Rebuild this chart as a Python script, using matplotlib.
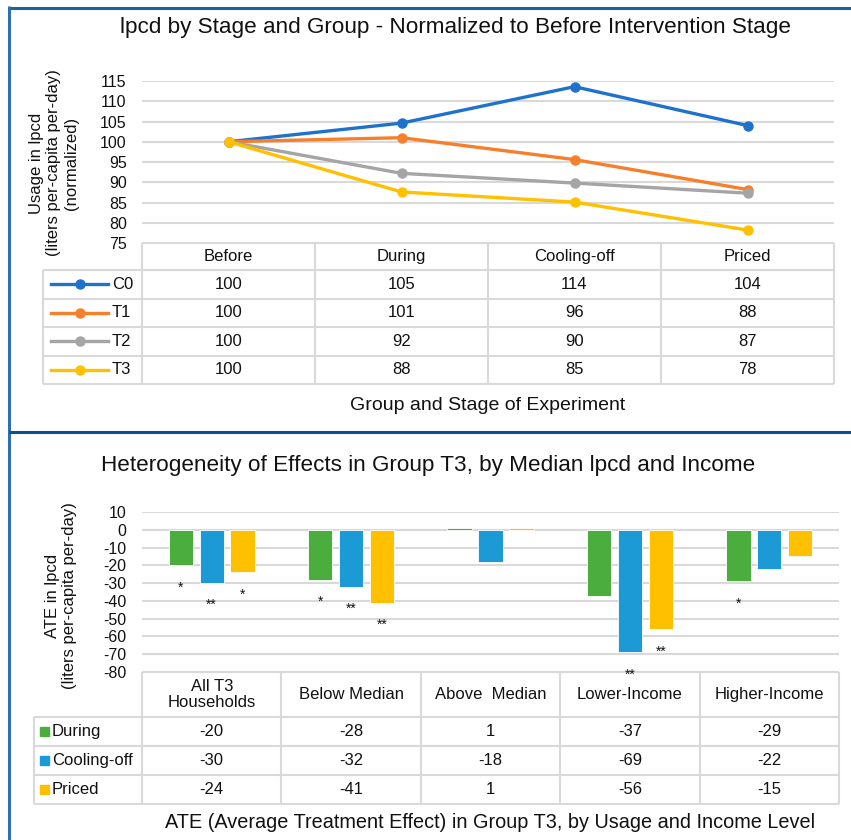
import matplotlib.pyplot as plt
from matplotlib.lines import Line2D
from matplotlib.patches import Rectangle

W, H = 851, 840
plt.rcParams["font.family"] = ["Liberation Sans", "DejaVu Sans"]
plt.rcParams["axes.unicode_minus"] = False

# -----------------------------
# Data: normalized lpcd by stage and group
# -----------------------------
stages = ["Before", "During", "Cooling-off", "Priced"]
groups = ["C0", "T1", "T2", "T3"]
lpcd_c0 = [100, 104.6, 113.6, 104.0]
lpcd_t1 = [100, 101.0, 95.6, 88.2]
lpcd_t2 = [100, 92.2, 89.8, 87.3]
lpcd_t3 = [100, 87.6, 85.1, 78.2]
usage_ticks = [75, 80, 85, 90, 95, 100, 105, 110, 115]

# -----------------------------
# Data: ATE in group T3 by segment
# -----------------------------
segments = ["All T3\nHouseholds", "Below Median", "Above  Median", "Lower-Income", "Higher-Income"]
periods = ["During", "Cooling-off", "Priced"]
ate_during = [-20, -28, 1, -37, -29]
ate_cooling = [-30, -32, -18, -69, -22]
ate_priced = [-24, -41, 1, -56, -15]
sig_during = ["*", "*", "", "", "*"]
sig_cooling = ["**", "**", "", "**", ""]
sig_priced = ["*", "**", "", "**", ""]
ate_ticks = [-80, -70, -60, -50, -40, -30, -20, -10, 0, 10]

line_colors = ["#1f72cc", "#f77f2b", "#a5a5a5", "#ffc000"]
bar_colors = ["#4aad3e", "#1b9ad6", "#ffc000"]
GRID = "#d9d9d9"
TXT = "#111111"


def px_line(fig, x0, y0, x1, y1, color=GRID, lw=1.5):
    fig.add_artist(Line2D([x0 / W, x1 / W], [1 - y0 / H, 1 - y1 / H],
                          transform=fig.transFigure, color=color, lw=lw,
                          solid_capstyle="butt"))


def px_text(fig, x, y, s, **kw):
    kw.setdefault("color", TXT)
    fig.text(x / W, 1 - y / H, s, **kw)


def px_axes(fig, left, top, right, bottom):
    ax = fig.add_axes([left / W, 1 - bottom / H, (right - left) / W, (bottom - top) / H])
    ax.set_zorder(5)
    ax.patch.set_visible(False)
    return ax


def style_axes(ax, ticks, lims):
    ax.set_ylim(*lims)
    ax.set_yticks(ticks)
    ax.set_xticks([])
    ax.grid(axis="y", color=GRID, lw=1.5)
    ax.set_axisbelow(True)
    for s in ax.spines.values():
        s.set_visible(False)
    ax.tick_params(axis="y", length=0, pad=11, labelsize=11.5, labelcolor=TXT)


def draw_grid_table(fig, col_edges, row_edges, key_left):
    right = col_edges[-1]
    for i, y in enumerate(row_edges):
        px_line(fig, col_edges[0] if i == 0 else key_left, y, right, y)
    px_line(fig, key_left, row_edges[1], key_left, row_edges[-1])
    for x in col_edges:
        px_line(fig, x, row_edges[0], x, row_edges[-1])


fig = plt.figure(figsize=(W / 100, H / 100), dpi=100)

# frame
px_line(fig, 8, 7.5, W, 7.5, color="#1f5f9f", lw=2.2)
px_line(fig, 9, 6, 9, H, color="#2f6fb0", lw=2.2)
px_line(fig, 9, 432.5, W, 432.5, color="#0b4f8c", lw=2.2)

# -----------------------------
# Top panel: line chart + data table
# -----------------------------
top_l, top_r, top_t, top_b = 142, 834, 81, 243
ax1 = px_axes(fig, top_l, top_t, top_r, top_b)
style_axes(ax1, usage_ticks, (75, 115))
ax1.set_xlim(-0.5, len(stages) - 0.5)
series = [lpcd_c0, lpcd_t1, lpcd_t2, lpcd_t3]
for vals, col in zip(series, line_colors):
    ax1.plot(range(len(stages)), vals, color=col, lw=2.4, marker="o", ms=6.5,
             clip_on=False, zorder=3)

px_text(fig, 455, 27, "lpcd by Stage and Group - Normalized to Before Intervention Stage",
        ha="center", va="center", fontsize=16.2)
px_text(fig, 54, 163, "Usage in lpcd\n(liters per-capita per-day)\n(normalized)",
        ha="center", va="center", rotation=90, fontsize=12, linespacing=1.2)

cw = (top_r - top_l) / len(stages)
col_edges = [top_l + i * cw for i in range(len(stages) + 1)]
row_edges = [243, 270, 298.5, 327, 355.5, 384]
draw_grid_table(fig, col_edges, row_edges, 43)
for j, st in enumerate(stages):
    px_text(fig, top_l + (j + 0.5) * cw, (row_edges[0] + row_edges[1]) / 2, st,
            ha="center", va="center", fontsize=12)
for i, (g, vals, col) in enumerate(zip(groups, series, line_colors)):
    yc = (row_edges[i + 1] + row_edges[i + 2]) / 2
    fig.add_artist(Line2D([51 / W, 108 / W], [1 - yc / H] * 2, transform=fig.transFigure,
                          color=col, lw=2.4))
    fig.add_artist(Line2D([80 / W], [1 - yc / H], transform=fig.transFigure,
                          color=col, marker="o", ms=6.5))
    px_text(fig, 112, yc, g, ha="left", va="center", fontsize=12)
    for j, v in enumerate(vals):
        px_text(fig, top_l + (j + 0.5) * cw, yc, f"{v:.0f}", ha="center", va="center", fontsize=12)

px_text(fig, 488, 405, "Group and Stage of Experiment", ha="center", va="center", fontsize=14)

# -----------------------------
# Bottom panel: bar chart + data table
# -----------------------------
bot_l, bot_r, bot_t, bot_b = 142, 839, 512, 672
ax2 = px_axes(fig, bot_l, bot_t, bot_r, bot_b)
style_axes(ax2, ate_ticks, (-80, 10))
ax2.set_xlim(-0.5, len(segments) - 0.5)
bar_sets = [ate_during, ate_cooling, ate_priced]
sig_sets = [sig_during, sig_cooling, sig_priced]
offsets = [-0.222, 0, 0.222]
for vals, sigs, col, off in zip(bar_sets, sig_sets, bar_colors, offsets):
    xs = [i + off for i in range(len(segments))]
    ax2.bar(xs, vals, width=0.175, color=col, edgecolor="white", lw=0.6, zorder=2)
    for x, v, s in zip(xs, vals, sigs):
        if s:
            ax2.annotate(s, (x, v), xytext=(0, -26), textcoords="offset pixels",
                         ha="center", va="baseline", fontsize=10, color=TXT,
                         annotation_clip=False, zorder=6)

px_text(fig, 428, 466, "Heterogeneity of Effects in Group T3, by Median lpcd and Income",
        ha="center", va="center", fontsize=16.2)
px_text(fig, 61, 596, "ATE in lpcd\n(liters per-capita per-day)",
        ha="center", va="center", rotation=90, fontsize=12, linespacing=1.2)

cw2 = (bot_r - bot_l) / len(segments)
col_edges2 = [bot_l + i * cw2 for i in range(len(segments) + 1)]
row_edges2 = [672, 717, 746, 775, 804]
draw_grid_table(fig, col_edges2, row_edges2, 34)
for j, seg in enumerate(segments):
    px_text(fig, bot_l + (j + 0.5) * cw2, (row_edges2[0] + row_edges2[1]) / 2, seg,
            ha="center", va="center", fontsize=12, linespacing=1.15)
for i, (p, vals, col) in enumerate(zip(periods, bar_sets, bar_colors)):
    yc = (row_edges2[i + 1] + row_edges2[i + 2]) / 2
    fig.add_artist(Rectangle((40 / W, 1 - (yc + 4) / H), 8.5 / W, 8.5 / H,
                             transform=fig.transFigure, color=col))
    px_text(fig, 52, yc, p, ha="left", va="center", fontsize=12)
    for j, v in enumerate(vals):
        px_text(fig, bot_l + (j + 0.5) * cw2, yc, f"{v:.0f}", ha="center", va="center", fontsize=12)

px_text(fig, 490, 822, "ATE (Average Treatment Effect) in Group T3, by Usage and Income Level",
        ha="center", va="center", fontsize=14.3)

fig.savefig("out.png", dpi=100)
